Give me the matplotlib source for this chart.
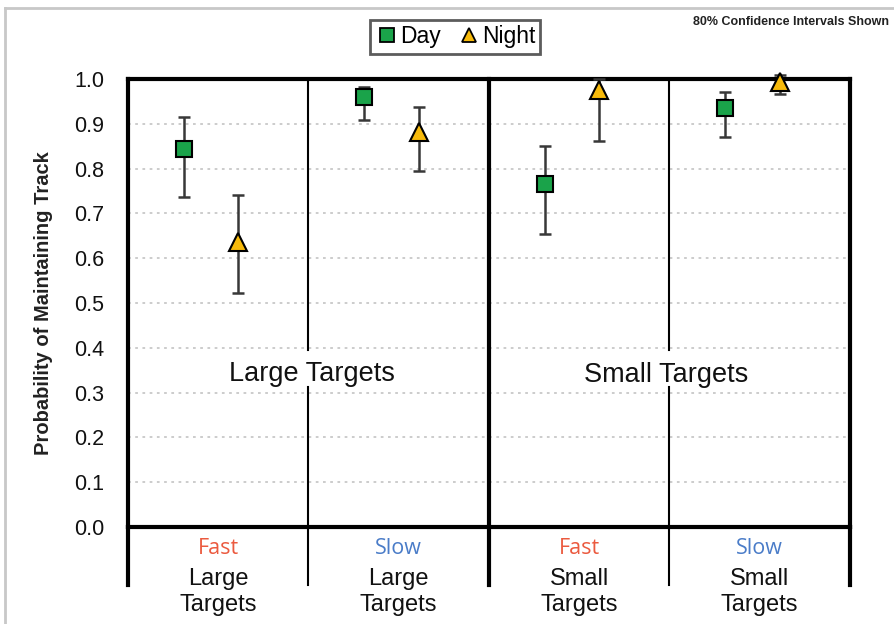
import matplotlib
matplotlib.use("Agg")
import matplotlib.pyplot as plt
import numpy as np
from matplotlib.lines import Line2D

# ---- data ----
speeds = ["Fast", "Slow", "Fast", "Slow"]
sizes = ["Large\nTargets", "Large\nTargets", "Small\nTargets", "Small\nTargets"]
group_labels = ["Large Targets", "Small Targets"]

day_mean = [0.844, 0.960, 0.766, 0.936]
day_low = [0.737, 0.908, 0.655, 0.870]
day_high = [0.916, 0.982, 0.850, 0.970]

night_mean = [0.636, 0.882, 0.976, 0.994]
night_low = [0.522, 0.795, 0.862, 0.966]
night_high = [0.740, 0.938, 1.000, 1.008]

yticks = [round(v, 1) for v in np.arange(0, 1.01, 0.1)]

speed_colors = {"Fast": "#EB5A3F", "Slow": "#4A7CC8"}

plt.rcParams['font.family'] = ['Liberation Sans', 'DejaVu Sans']

fig = plt.figure(figsize=(8.95, 6.24), dpi=100)
ax = fig.add_axes([128/895, 1-527/624, 722/895, 448/624])

n = len(day_mean)
xs = np.arange(n)
x_day = xs + 0.31
x_night = xs + 0.61

d_mean = np.array(day_mean)
n_mean = np.array(night_mean)
ax.errorbar(x_day, d_mean, yerr=[d_mean - np.array(day_low), np.array(day_high) - d_mean],
            fmt='none', ecolor='#383838', elinewidth=1.8, capsize=4.5, capthick=1.8,
            zorder=3, clip_on=False)
ax.errorbar(x_night, n_mean, yerr=[n_mean - np.array(night_low), np.array(night_high) - n_mean],
            fmt='none', ecolor='#383838', elinewidth=1.8, capsize=4.5, capthick=1.8,
            zorder=3, clip_on=False)
ax.plot(x_day, d_mean, 's', ms=11, mfc='#1AA34A', mec='black', mew=1.5, zorder=5,
        clip_on=False, ls='none')
ax.plot(x_night, n_mean, '^', ms=13, mfc='#F7BA0B', mec='black', mew=1.5, zorder=5,
        clip_on=False, ls='none')

ax.set_xlim(0, n)
ax.set_ylim(0, 1.0)
ax.set_yticks(yticks)
ax.set_yticklabels([f"{v:.1f}" for v in yticks], fontsize=15.5, color='#111111')
ax.tick_params(axis='y', length=0, pad=17)
ax.set_xticks([])

for s in ax.spines.values():
    s.set_linewidth(3)
    s.set_color('black')

# grid lines
for v in yticks[1:-1]:
    ax.axhline(v, color='#c8c8c8', lw=1.3, ls=(0, (1.5, 2.5)), zorder=1)

# dividers
ax.plot([2, 2], [1.0, -0.13], color='black', lw=3, clip_on=False, zorder=2)
for xd in [1, 3]:
    ax.plot([xd, xd], [1.0, 0.395], color='black', lw=1.5, clip_on=False, zorder=2)
    ax.plot([xd, xd], [0.312, -0.13], color='black', lw=1.5, clip_on=False, zorder=2)
for xd in [0, 4]:
    ax.plot([xd, xd], [0, -0.13], color='black', lw=3, clip_on=False, zorder=2)

# group labels
ax.text(1.02, 0.342, group_labels[0], ha='center', va='center', fontsize=19.5, zorder=4,
        color='#111111')
ax.text(2.98, 0.340, group_labels[1], ha='center', va='center', fontsize=19.5, zorder=4,
        color='#111111')

# category labels
for i in range(n):
    ax.text(i + 0.5, -0.049, speeds[i], ha='center', va='center', fontsize=15.5,
            family=['Open Sans', 'DejaVu Sans'],
            color=speed_colors[speeds[i]], clip_on=False)
    ax.text(i + 0.5, -0.145, sizes[i], ha='center', va='center', fontsize=17,
            linespacing=1.2, clip_on=False, color='#111111')

ax.set_ylabel("Probability of Maintaining Track", fontsize=14.5, fontweight='bold',
              color='#222222')
ax.yaxis.set_label_coords(-0.104, 0.5)

# legend
handles = [Line2D([], [], marker='s', ls='none', ms=10, mfc='#1AA34A', mec='black', mew=1.3),
           Line2D([], [], marker='^', ls='none', ms=10, mfc='#F7BA0B', mec='black', mew=1.3)]
leg = fig.legend(handles, ["Day", "Night"], loc='center', bbox_to_anchor=(455/895, 1-37/624),
                 ncol=2, fontsize=16.5, frameon=True, fancybox=False, handletextpad=0.0,
                 columnspacing=0.7, borderpad=0.22, handlelength=1.1)
leg.get_frame().set_edgecolor('#333333')
leg.get_frame().set_linewidth(2)

fig.text(889/895, 1-22/624, "80% Confidence Intervals Shown", ha='right', va='center',
         fontsize=9, fontweight='bold', color='#222222')

# figure border (top/left)
fig.add_artist(Line2D([5/895, 1], [1-8/624, 1-8/624], color='#c8c8c8', lw=2, transform=fig.transFigure))
fig.add_artist(Line2D([5/895, 5/895], [0, 1-8/624], color='#c8c8c8', lw=2, transform=fig.transFigure))

fig.savefig("out.png", dpi=100)
